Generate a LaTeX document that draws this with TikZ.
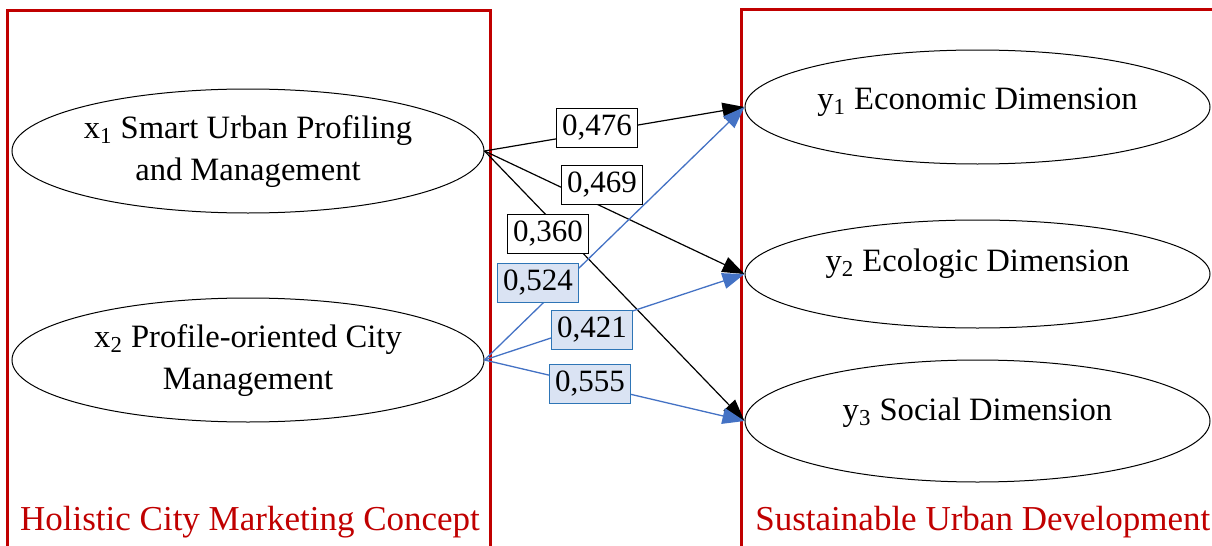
\documentclass[tikz,border=0pt]{standalone}
\usepackage{fontspec}
\setmainfont{Liberation Serif}
\usetikzlibrary{shapes.geometric,arrows.meta}
\definecolor{darkred}{HTML}{C00000}
\definecolor{lineblue}{HTML}{4472C4}
\definecolor{labfill}{HTML}{DAE3F3}
\definecolor{labborder}{HTML}{2E75B6}
\newcommand{\inell}[2]{\raisebox{#1}{\makebox[0pt][c]{#2}}}
\tikzset{
  construct/.style={ellipse, draw=black, line width=0.5pt, inner sep=0pt,
    font=\fontsize{16.3}{21}\selectfont},
  xell/.style={construct, minimum width=236pt, minimum height=62pt},
  yell/.style={construct, minimum width=232.5pt, minimum height=56pt},
  blackarrow/.style={draw=black, line width=0.6pt, -{Triangle[length=11pt,width=8pt]}},
  bluearrow/.style={draw=lineblue, line width=0.65pt, -{Triangle[length=11pt,width=8pt]}},
  coefblack/.style={draw=black, fill=white, line width=0.5pt, inner xsep=3pt, minimum height=18.5pt,
    font=\fontsize{15.5}{18}\selectfont},
  coefblue/.style={draw=labborder, fill=labfill, line width=0.5pt, inner xsep=3pt, minimum height=18.5pt,
    font=\fontsize{15.5}{18}\selectfont},
  frame/.style={draw=darkred, line width=1.5pt},
  frametitle/.style={text=darkred, font=\fontsize{17.5}{20}\selectfont, inner sep=0pt}
}
\begin{document}
\begin{tikzpicture}[x=0.5pt, y=-0.5pt]
\useasboundingbox (0,0) rectangle (1212,546);
% frames
\draw[frame] (7,550) -- (7,10) -- (490,10) -- (490,550);
\draw[frame] (741,550) -- (741,9) -- (1216,9);
\node[frametitle] (t1) at (250,522) {Holistic City Marketing Concept};
\node[frametitle, anchor=west] (t2) at (755,522) {Sustainable Urban Development};
% constructs
\node[xell] (x1) at (248,151) {\inell{-2pt}{\begin{tabular}{@{}c@{}}x\textsubscript{1} Smart Urban Profiling\\ and Management\end{tabular}}};
\node[xell] (x2) at (248,360) {\inell{-2pt}{\begin{tabular}{@{}c@{}}x\textsubscript{2} Profile-oriented City\\ Management\end{tabular}}};
\node[yell, minimum height=57pt] (y1) at (977.5,107) {\inell{8pt}{y\textsubscript{1} Economic Dimension}};
\node[yell, minimum height=54pt] (y2) at (977.5,274) {\inell{13.5pt}{y\textsubscript{2} Ecologic Dimension}};
\node[yell, minimum height=61pt] (y3) at (977.5,421) {\inell{11.5pt}{y\textsubscript{3} Social Dimension}};
% paths
\draw[blackarrow] (x1.east) -- (y1.west);
\draw[blackarrow] (x1.east) -- (y2.west);
\draw[blackarrow] (x1.east) -- (y3.west);
\draw[bluearrow] (x2.east) -- (y1.west);
\draw[bluearrow] (x2.east) -- (y2.west);
\draw[bluearrow] (x2.east) -- (y3.west);
% coefficients
\node[coefblack] (c1) at (597,128) {0,476};
\node[coefblack] (c2) at (602,185) {0,469};
\node[coefblack] (c3) at (548,234) {0,360};
\node[coefblue] (c4) at (538,283) {0,524};
\node[coefblue] (c5) at (592,330) {0,421};
\node[coefblue] (c6) at (590,384) {0,555};
\end{tikzpicture}
\end{document}
